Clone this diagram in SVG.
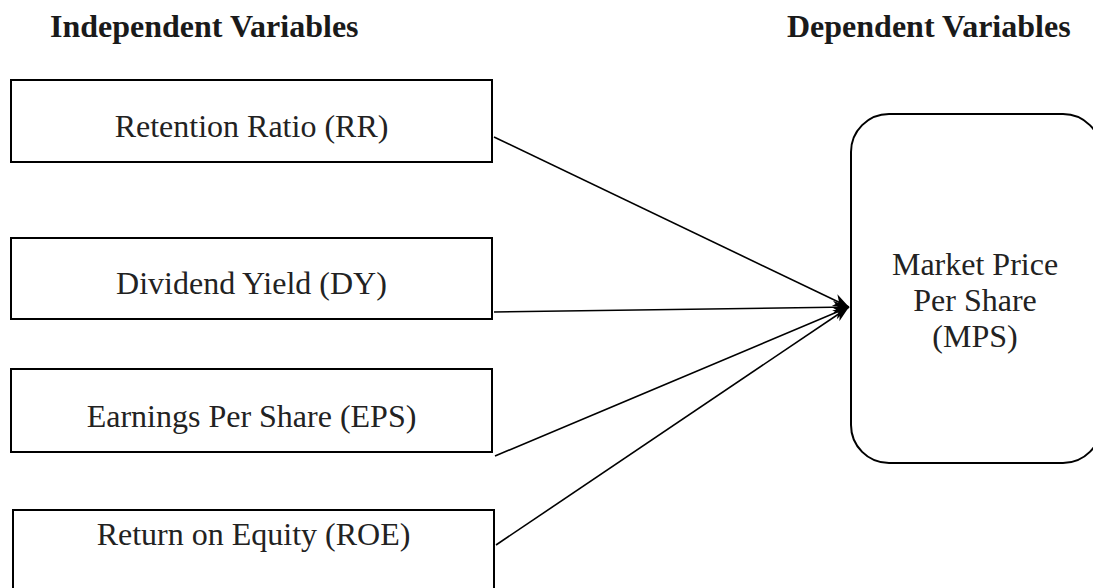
<svg xmlns="http://www.w3.org/2000/svg" width="1093" height="588" viewBox="0 0 1093 588">
<style>
.hdr{font-family:"Liberation Serif","Times New Roman",serif;font-weight:bold;font-size:32px;fill:#1a1a1a}
.lbl{font-family:"Liberation Serif","Times New Roman",serif;font-size:32px;fill:#222;text-anchor:middle}
.box{fill:#fff;stroke:#000;stroke-width:2}
.con{stroke:#000;stroke-width:1.6;fill:none;marker-end:url(#ah)}
</style>
<defs>
<marker id="ah" viewBox="-16 -8 18 16" refX="0" refY="0" markerWidth="18" markerHeight="16" markerUnits="userSpaceOnUse" orient="auto">
<path d="M0,0 L-16,-6.5 L-11,0 L-16,6.5 Z" fill="#000"/>
</marker>
</defs>
<rect width="1093" height="588" fill="#fff"/>
<text class="hdr" x="50" y="37">Independent Variables</text>
<text class="hdr" x="787" y="37">Dependent Variables</text>
<g id="connectors">
<line class="con" x1="494" y1="137" x2="849" y2="307"/>
<line class="con" x1="494" y1="312" x2="849" y2="307"/>
<line class="con" x1="495" y1="456" x2="849" y2="307"/>
<line class="con" x1="496" y1="545" x2="849" y2="307"/>
</g>
<g id="rr">
<rect class="box" x="11" y="80" width="481" height="82"/>
<text class="lbl" x="251.5" y="137">Retention Ratio (RR)</text>
</g>
<g id="dy">
<rect class="box" x="11" y="238" width="481" height="81"/>
<text class="lbl" x="251.5" y="294">Dividend Yield (DY)</text>
</g>
<g id="eps">
<rect class="box" x="11" y="369" width="481" height="83"/>
<text class="lbl" x="251.5" y="427">Earnings Per Share (EPS)</text>
</g>
<g id="roe">
<rect class="box" x="13" y="510" width="481" height="90"/>
<text class="lbl" x="253.5" y="545">Return on Equity (ROE)</text>
</g>
<g id="mps">
<rect class="box" x="851" y="114" width="250" height="349" rx="38" ry="38"/>
<text class="lbl" x="975" y="275">Market Price</text>
<text class="lbl" x="975" y="311">Per Share</text>
<text class="lbl" x="975" y="347">(MPS)</text>
</g>
</svg>
